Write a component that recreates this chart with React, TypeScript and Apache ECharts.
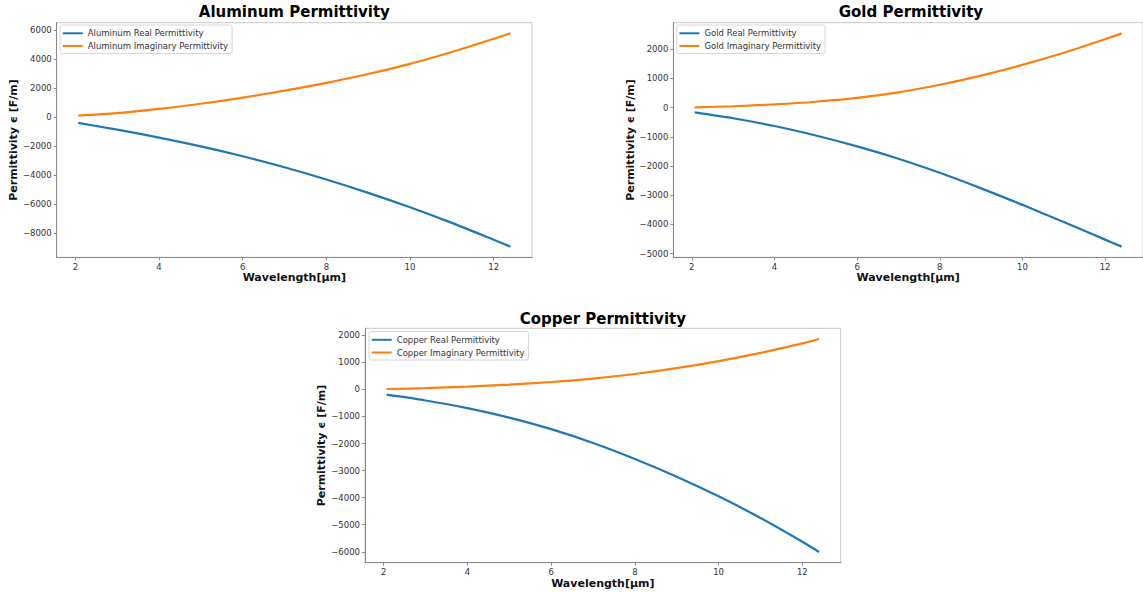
import React, { useEffect, useRef } from "react";
import * as echarts from "echarts";

const wavelength = [2.07, 3, 4, 5, 6, 7, 8, 9, 10, 11, 12, 12.4];
const aluminumReal = [-411, -877, -1420, -2026, -2705, -3467, -4313, -5232, -6224, -7300, -8459, -8939];
const aluminumImag = [96, 263, 553, 913, 1333, 1813, 2353, 2963, 3663, 4483, 5393, 5765];
const goldReal = [-165, -366, -631, -955, -1329, -1752, -2234, -2765, -3330, -3920, -4520, -4760];
const goldImag = [10, 45, 110, 200, 330, 520, 780, 1095, 1460, 1875, 2340, 2540];
const copperReal = [-195, -409, -694, -1044, -1469, -1979, -2569, -3224, -3950, -4750, -5630, -6010];
const copperImag = [15, 48, 105, 180, 275, 400, 570, 785, 1045, 1350, 1700, 1865];

const xTicks = [2, 4, 6, 8, 10, 12];
const aluminumYTicks = [-8000, -6000, -4000, -2000, 0, 2000, 4000, 6000];
const goldYTicks = [-5000, -4000, -3000, -2000, -1000, 0, 1000, 2000];
const copperYTicks = [-6000, -5000, -4000, -3000, -2000, -1000, 0, 1000, 2000];

const panels = [
  {
    metal: "Aluminum",
    real: aluminumReal,
    imag: aluminumImag,
    yTicks: aluminumYTicks,
    grid: { left: 56.7, top: 22.7, width: 475.3, height: 234.6 },
    legendPos: { left: 60, top: 25 },
    titleY: 12.1,
  },
  {
    metal: "Gold",
    real: goldReal,
    imag: goldImag,
    yTicks: goldYTicks,
    grid: { left: 673.3, top: 22.7, width: 475.3, height: 234.6 },
    legendPos: { left: 676.7, top: 25 },
    titleY: 12.1,
  },
  {
    metal: "Copper",
    real: copperReal,
    imag: copperImag,
    yTicks: copperYTicks,
    grid: { left: 365, top: 328.3, width: 475.7, height: 234.4 },
    legendPos: { left: 369, top: 331.5 },
    titleY: 318.8,
  },
];

const FONT = "DejaVu Sans";
const BLUE = "#1f77b4";
const ORANGE = "#ff7f0e";

const pad = (v: { min: number; max: number }, side: number) =>
  side < 0 ? v.min - 0.05 * (v.max - v.min) : v.max + 0.05 * (v.max - v.min);

const fmt = (v: number) => String(v).replace("-", "\u2212");

export default function App() {
  const ref = useRef<HTMLDivElement>(null);

  useEffect(() => {
    if (!ref.current) return;
    const chart = echarts.init(ref.current, null, { renderer: "svg" });

    const grids: any[] = [];
    const xAxes: any[] = [];
    const yAxes: any[] = [];
    const legends: any[] = [];
    const series: any[] = [];
    const graphics: any[] = [];

    panels.forEach((p, i) => {
      grids.push({
        ...p.grid,
        show: true,
        borderColor: "#c8c8c8",
        borderWidth: 1,
        backgroundColor: "#fff",
        containLabel: false,
      });
      xAxes.push({
        type: "value",
        gridIndex: i,
        min: (v: any) => pad(v, -1),
        max: (v: any) => pad(v, 1),
        name: "Wavelength[μm]",
        nameLocation: "middle",
        nameGap: 14,
        nameTextStyle: { fontFamily: FONT, fontWeight: "bold", fontSize: 11, color: "#111" },
        axisLine: { show: true, onZero: false, lineStyle: { color: "#8a8a8a", width: 1 } },
        axisTick: { show: true, length: 3, lineStyle: { color: "#8a8a8a" }, customValues: xTicks },
        axisLabel: {
          margin: 5,
          fontFamily: FONT,
          fontSize: 8.5,
          color: "#333",
          customValues: xTicks,
          formatter: (v: number) => fmt(v),
        },
        splitLine: { show: false },
      });
      yAxes.push({
        type: "value",
        gridIndex: i,
        min: (v: any) => pad(v, -1),
        max: (v: any) => pad(v, 1),
        name: "Permittivity ϵ [F/m]",
        nameLocation: "middle",
        nameGap: 36.5,
        nameTextStyle: { fontFamily: FONT, fontWeight: "bold", fontSize: 11, color: "#111" },
        axisLine: { show: true, onZero: false, lineStyle: { color: "#8a8a8a", width: 1 } },
        axisTick: { show: true, length: 3, lineStyle: { color: "#8a8a8a" }, customValues: p.yTicks },
        axisLabel: {
          margin: 5,
          fontFamily: FONT,
          fontSize: 8.5,
          color: "#333",
          customValues: p.yTicks,
          formatter: (v: number) => fmt(v),
        },
        splitLine: { show: false },
      });
      const realName = `${p.metal} Real Permittivity`;
      const imagName = `${p.metal} Imaginary Permittivity`;
      legends.push({
        data: [realName, imagName],
        orient: "vertical",
        left: p.legendPos.left,
        top: p.legendPos.top,
        icon: "rect",
        itemWidth: 20,
        itemHeight: 2,
        itemGap: 2.7,
        padding: [3.3, 4, 2.5, 2.7],
        backgroundColor: "rgba(255,255,255,0.85)",
        borderColor: "#d6d6d6",
        borderWidth: 1,
        borderRadius: 2,
        selectedMode: false,
        textStyle: { fontFamily: FONT, fontSize: 8.5, color: "#333", lineHeight: 10, padding: [0, 0, 0, 0] },
      });
      series.push({
        type: "line",
        name: realName,
        xAxisIndex: i,
        yAxisIndex: i,
        data: wavelength.map((x, k) => [x, p.real[k]]),
        showSymbol: false,
        smooth: 0.3,
        color: BLUE,
        lineStyle: { color: BLUE, width: 2.2 },
      });
      series.push({
        type: "line",
        name: imagName,
        xAxisIndex: i,
        yAxisIndex: i,
        data: wavelength.map((x, k) => [x, p.imag[k]]),
        showSymbol: false,
        smooth: 0.3,
        color: ORANGE,
        lineStyle: { color: ORANGE, width: 2.2 },
      });
      graphics.push({
        type: "text",
        x: p.grid.left + p.grid.width / 2,
        y: p.titleY,
        style: {
          text: `${p.metal} Permittivity`,
          fontFamily: FONT,
          fontWeight: "bold",
          fontSize: 15,
          fill: "#000",
          align: "center",
          verticalAlign: "middle",
        },
      });
    });

    chart.setOption({
      animation: false,
      backgroundColor: "#fff",
      grid: grids,
      xAxis: xAxes,
      yAxis: yAxes,
      legend: legends,
      series,
      graphic: graphics,
    });

    return () => chart.dispose();
  }, []);

  return (
    <div
      ref={ref}
      style={{ position: "absolute", left: 0, top: 0, width: 1143, height: 592, background: "#fff" }}
    />
  );
}
